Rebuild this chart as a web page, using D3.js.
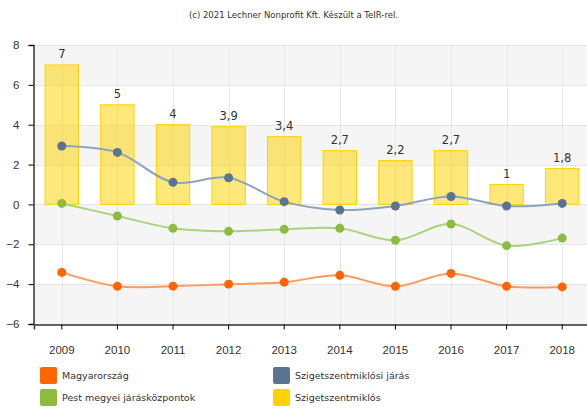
<!DOCTYPE html>
<html>
<head>
<meta charset="utf-8">
<script src="https://cdn.jsdelivr.net/npm/d3@7"></script>
<style>
  body { margin: 0; background: #fff; }
  svg { display: block; font-family: "DejaVu Sans", sans-serif; }
</style>
</head>
<body>
<div id="chart"></div>
<script>
const years = ["2009", "2010", "2011", "2012", "2013", "2014", "2015", "2016", "2017", "2018"];
const yTicks = [-6, -4, -2, 0, 2, 4, 6, 8];

// Szigetszentmiklós (columns)
const town = [7, 5, 4, 3.9, 3.4, 2.7, 2.2, 2.7, 1, 1.8];
// Szigetszentmiklósi járás
const district = [2.93, 2.61, 1.11, 1.34, 0.14, -0.28, -0.08, 0.4, -0.08, 0.05];
// Pest megyei járásközpontok
const pest = [0.05, -0.58, -1.2, -1.35, -1.25, -1.2, -1.8, -0.98, -2.07, -1.69];
// Magyarország
const hungary = [-3.41, -4.11, -4.1, -4.0, -3.9, -3.56, -4.11, -3.46, -4.11, -4.14];

const width = 587, height = 409;
const plot = { left: 34, right: 590, top: 45, bottom: 324 };

const svg = d3.select("#chart").append("svg")
    .attr("width", width)
    .attr("height", height);

svg.append("text")
    .attr("x", width / 2)
    .attr("y", 18)
    .attr("text-anchor", "middle")
    .style("font-size", "8.5px")
    .attr("fill", "#333")
    .text("(c) 2021 Lechner Nonprofit Kft. Készült a TeIR-rel.");

const x = d3.scaleBand().domain(years).range([plot.left, plot.right]).padding(0);
const y = d3.scaleLinear().domain([-6, 8]).range([plot.bottom, plot.top]);
const cx = d => x(d) + x.bandwidth() / 2;

// alternating background bands
const bands = d3.pairs(yTicks).filter((p, i) => i % 2 === 0);
svg.append("g").selectAll("rect")
    .data(bands)
    .enter().append("rect")
        .attr("x", plot.left)
        .attr("width", plot.right - plot.left)
        .attr("y", d => y(d[1]))
        .attr("height", d => y(d[0]) - y(d[1]))
        .attr("fill", "#f5f5f5");

// grid
const grid = svg.append("g").attr("stroke", "#e6e6e6").attr("stroke-width", 1);
grid.selectAll("line.h")
    .data(yTicks)
    .enter().append("line")
        .attr("x1", plot.left).attr("x2", plot.right)
        .attr("y1", d => Math.round(y(d)) + 0.5).attr("y2", d => Math.round(y(d)) + 0.5);
grid.selectAll("line.v")
    .data(years)
    .enter().append("line")
        .attr("x1", d => Math.round(cx(d)) + 0.5).attr("x2", d => Math.round(cx(d)) + 0.5)
        .attr("y1", plot.top).attr("y2", plot.bottom);

// columns
const barW = x.bandwidth() * 0.6;
svg.append("g").selectAll("rect")
    .data(town)
    .enter().append("rect")
        .attr("x", (d, i) => cx(years[i]) - barW / 2)
        .attr("width", barW)
        .attr("y", d => y(d))
        .attr("height", d => y(0) - y(d))
        .attr("fill", "#ffd200")
        .attr("fill-opacity", 0.52)
        .attr("stroke", "#ffd200")
        .attr("stroke-width", 1);

svg.append("g").selectAll("text")
    .data(town)
    .enter().append("text")
        .attr("x", (d, i) => cx(years[i]))
        .attr("y", d => y(d) - 7)
        .attr("text-anchor", "middle")
        .style("font-size", "11.5px")
        .attr("fill", "#333")
        .text(d => d3.format("")(d).replace(".", ","));

// lines
const series = [
    { values: hungary, line: "#ff9a5e", dot: "#ff6600" },
    { values: pest, line: "#abd27c", dot: "#8dbb40" },
    { values: district, line: "#8fa3bc", dot: "#5b7493" }
];
const line = d3.line()
    .x((d, i) => cx(years[i]))
    .y(d => y(d))
    .curve(d3.curveCatmullRom.alpha(0.5));

series.forEach(s => {
    svg.append("path")
        .attr("d", line(s.values))
        .attr("fill", "none")
        .attr("stroke", s.line)
        .attr("stroke-width", 2);
    svg.append("g").selectAll("circle")
        .data(s.values)
        .enter().append("circle")
            .attr("cx", (d, i) => cx(years[i]))
            .attr("cy", d => y(d))
            .attr("r", 4.5)
            .attr("fill", s.dot);
});

// axes
const yAxis = svg.append("g")
    .attr("transform", `translate(${plot.left - 0.5},0)`)
    .call(d3.axisLeft(y).tickValues(yTicks).tickSize(5).tickPadding(9).tickFormat(d3.format("")));
yAxis.select(".domain").attr("stroke", "#333").attr("stroke-width", 1.5);
yAxis.selectAll("text").style("font-size", "11.5px").attr("fill", "#333");

const xAxis = svg.append("g")
    .attr("transform", `translate(0,${plot.bottom + 0.5})`)
    .call(d3.axisBottom(x).tickSize(5).tickPadding(16));
xAxis.select(".domain").attr("stroke", "#333").attr("stroke-width", 1.5);
xAxis.selectAll("text").style("font-size", "11.5px").attr("fill", "#333");

// legend
const legend = [
    { name: "Magyarország", color: "#ff6600", col: 0, row: 0 },
    { name: "Szigetszentmiklósi járás", color: "#5b7493", col: 1, row: 0 },
    { name: "Pest megyei járásközpontok", color: "#8dbb40", col: 0, row: 1 },
    { name: "Szigetszentmiklós", color: "#ffd200", col: 1, row: 1 }
];
const lg = svg.append("g").selectAll("g")
    .data(legend)
    .enter().append("g")
        .attr("transform", d => `translate(${40 + d.col * 233},${367 + d.row * 22})`);
lg.append("rect")
    .attr("width", 17).attr("height", 17).attr("rx", 2)
    .attr("fill", d => d.color);
lg.append("text")
    .attr("x", 22).attr("y", 12)
    .style("font-size", "9.5px")
    .attr("fill", "#333")
    .text(d => d.name);
</script>
</body>
</html>
